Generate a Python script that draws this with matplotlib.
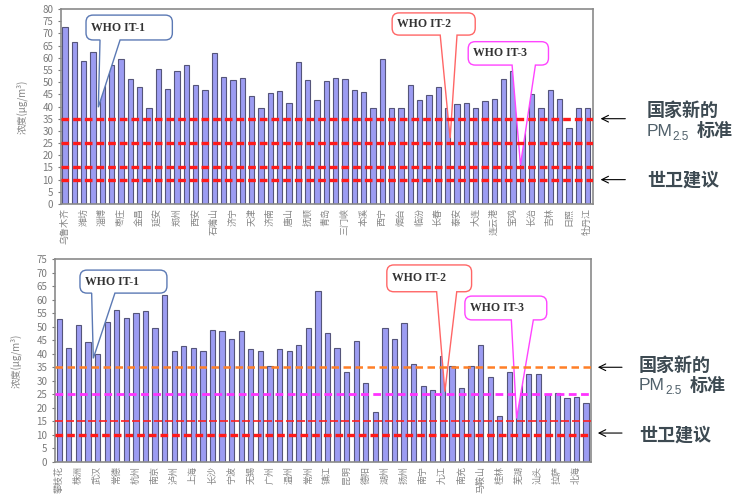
import matplotlib
matplotlib.use('Agg')
import matplotlib.pyplot as plt
from matplotlib.path import Path
from matplotlib.patches import PathPatch
from matplotlib.transforms import IdentityTransform
import numpy as np

plt.rcParams['font.family'] = ['Noto Sans CJK SC', 'DejaVu Sans']

# 北方城市 PM2.5 年均浓度 (ug/m3)
north_vals = [72.5, 66.3, 58.5, 62.5, 50.5, 57.0, 59.3, 51.3, 48.0, 39.2,
              55.4, 47.3, 54.7, 56.9, 49.0, 46.6, 62.0, 52.0, 51.0, 51.5,
              44.4, 39.3, 45.5, 46.5, 41.3, 58.3, 50.7, 42.7, 50.3, 51.7,
              51.1, 46.7, 45.8, 39.2, 59.4, 39.2, 39.2, 48.8, 42.8, 44.6,
              48.1, 39.5, 40.9, 41.6, 39.2, 42.4, 43.2, 51.3, 54.7, 38.0,
              45.1, 39.2, 46.8, 42.9, 31.0, 39.2, 39.2]
north_labels = ['乌鲁木齐', '潍坊', '淄博', '枣庄', '金昌', '延安', '郑州', '西安',
                '石嘴山', '济宁', '天津', '济南', '唐山', '抚顺', '青岛', '三门峡',
                '本溪', '西宁', '烟台', '临汾', '长春', '泰安', '大连', '连云港',
                '宝鸡', '长治', '吉林', '日照', '牡丹江']

# 南方城市
south_vals = [52.7, 42.2, 50.5, 44.2, 40.0, 51.8, 56.2, 53.1, 55.2, 55.8,
              49.4, 61.7, 41.0, 42.7, 42.2, 41.0, 48.6, 48.4, 45.3, 48.4,
              41.7, 41.0, 35.6, 41.7, 41.0, 43.2, 49.4, 63.2, 47.7, 42.2,
              33.4, 44.8, 29.1, 18.6, 49.4, 45.3, 51.2, 36.2, 28.1, 26.6,
              39.0, 35.5, 27.2, 35.5, 43.2, 31.5, 17.1, 33.1, 30.0, 32.5,
              32.4, 25.1, 25.6, 23.8, 23.9, 21.7]
south_labels = ['攀枝花', '株洲', '武汉', '常德', '杭州', '南京', '泸州', '上海',
                '长沙', '宁波', '无锡', '广州', '温州', '常州', '镇江', '昆明',
                '德阳', '湖州', '扬州', '南宁', '九江', '南充', '马鞍山', '桂林',
                '芜湖', '汕头', '拉萨', '北海']

BAR = '#9c9cf2'
EDGE = '#55557a'
GREY = '#7a7a7a'
TXT = '#3d4a52'

fig = plt.figure(figsize=(7.35, 5.03), dpi=100)
ax1 = fig.add_axes([0.0830, 0.5944, 0.7238, 0.3877])
ax2 = fig.add_axes([0.0748, 0.0815, 0.7293, 0.4036])


def draw_panel(ax, values, labels, ymax, xlim):
    x = np.arange(len(values))
    ax.bar(x, values, width=0.55, color=BAR, edgecolor=EDGE, lw=0.8, zorder=2)
    ax.set_xlim(*xlim)
    ax.set_ylim(0, ymax)
    ax.set_yticks(np.arange(0, ymax + 1, 5))
    ax.set_xticks(x[::2])
    ax.set_xticklabels(labels, rotation=90, fontsize=6.5, color='#858585')
    ax.tick_params(axis='x', length=0, pad=3)
    ax.tick_params(axis='y', length=2.5, labelsize=7, colors=GREY, pad=3)
    for s in ax.spines.values():
        s.set_color('#8a8a8a')
        s.set_linewidth(1.2)
    ax.set_ylabel('浓度(μg/m³)', fontsize=7, color='#858585')


def bubble(ax, box, tail, tip, color, text):
    # speech bubble: box=(x0, x1, ybottom, ytop), tail=(xa, xb) on the bottom edge
    T = ax.transData
    x0, y0 = T.transform((box[0], box[2]))
    x1, y1 = T.transform((box[1], box[3]))
    xa = T.transform((tail[0], box[2]))[0]
    xb = T.transform((tail[1], box[2]))[0]
    xt, yt = T.transform(tip)
    r = 7
    verts = [(x0 + r, y0), (xa, y0), (xt, yt), (xb, y0), (x1 - r, y0),
             (x1, y0), (x1, y0 + r), (x1, y1 - r), (x1, y1), (x1 - r, y1),
             (x0 + r, y1), (x0, y1), (x0, y1 - r), (x0, y0 + r), (x0, y0),
             (x0 + r, y0), (x0 + r, y0)]
    codes = [Path.MOVETO, Path.LINETO, Path.LINETO, Path.LINETO, Path.LINETO,
             Path.CURVE3, Path.CURVE3, Path.LINETO, Path.CURVE3, Path.CURVE3,
             Path.LINETO, Path.CURVE3, Path.CURVE3, Path.LINETO, Path.CURVE3,
             Path.CURVE3, Path.CLOSEPOLY]
    p = PathPatch(Path(verts, codes), facecolor='white', edgecolor=color, lw=1.0,
                  transform=IdentityTransform(), zorder=3, clip_on=False)
    ax.add_patch(p)
    ax.text(box[0] + 0.5, (box[2] + box[3]) / 2, text, fontsize=8.5,
            family='Liberation Serif', fontweight='bold', color='#333333',
            va='center', ha='left', zorder=6)


def side_notes(ax, tip_x, tail_x, tx, y_arrows, y_lines, sub_dx, std_dx):
    tr = ax.get_yaxis_transform()
    for y in y_arrows:
        ax.annotate('', xy=(tip_x, y), xycoords=tr, xytext=(tail_x, y), textcoords=tr,
                    arrowprops=dict(arrowstyle='->', lw=0.8, color='black',
                                    mutation_scale=12), annotation_clip=False)
    y_top, y_pm, y_sub, y_std, y_who = y_lines
    ax.text(tx, y_top, '国家新的', transform=tr, fontsize=13, fontweight='bold',
            color=TXT, va='center', ha='left', clip_on=False)
    ax.text(tx, y_pm, 'PM', transform=tr, fontsize=12.5, family='Liberation Sans',
            color='#50606a', va='center', ha='left', clip_on=False)
    ax.text(tx + sub_dx, y_sub, '2.5', transform=tr, fontsize=8.5,
            family='Liberation Sans', color='#50606a', va='center', ha='left',
            clip_on=False)
    ax.text(tx + std_dx, y_std, '标准', transform=tr, fontsize=13, fontweight='bold',
            color=TXT, va='center', ha='left', clip_on=False)
    ax.text(tx, y_who, '世卫建议', transform=tr, fontsize=13, fontweight='bold',
            color=TXT, va='center', ha='left', clip_on=False)


# 北方城市
draw_panel(ax1, north_vals, north_labels, 80, (-0.43, 56.57))
ax1.yaxis.set_label_coords(-0.062, 0.5)
for y in [35, 25, 15, 10]:
    ax1.axhline(y, color='#ff1a1a', lw=2.4, dashes=(2.3, 1.2), zorder=4)
bubble(ax1, (2.25, 11.5, 67.3, 77.5), (3.75, 5.9), (3.57, 39.7), '#5b79b4', 'WHO IT-1')
bubble(ax1, (35.05, 43.95, 69.3, 78.4), (40.2, 42.0), (41.26, 27.0), '#ff6666', 'WHO IT-2')
bubble(ax1, (43.2, 51.8, 57.0, 66.6), (47.9, 50.4), (48.8, 16.0), '#ff44ff', 'WHO IT-3')
side_notes(ax1, 1.009, 1.066, 1.1015, [35, 10], (38.4, 29.7, 27.3, 30.0, 9.85),
           0.047, 0.094)

# 南方城市
draw_panel(ax2, south_vals, south_labels, 75, (-0.45, 55.52))
ax2.yaxis.set_label_coords(-0.0616, 0.5)
ax2.axhline(35, color='#ff7f27', lw=1.8, dashes=(3.0, 1.8), zorder=4)
ax2.axhline(25, color='#ff33ff', lw=2.0, dashes=(2.8, 1.6), zorder=4)
ax2.axhline(15, color='#ff2020', lw=1.2, dashes=(4.8, 1.8), zorder=4)
ax2.axhline(10, color='#ff1a1a', lw=2.4, dashes=(2.3, 1.2), zorder=4)
bubble(ax2, (2.16, 11.24, 62.4, 70.9), (3.38, 5.81), (3.55, 38.3), '#5b79b4', 'WHO IT-1')
bubble(ax2, (34.2, 43.05, 62.9, 72.8), (39.4, 41.5), (40.26, 26.0), '#ff6666', 'WHO IT-2')
bubble(ax2, (42.35, 50.9, 52.5, 61.3), (47.2, 49.5), (47.75, 16.1), '#ff44ff', 'WHO IT-3')
side_notes(ax2, 1.0075, 1.063, 1.0896, [35, 10.7], (35.8, 28.1, 26.2, 28.4, 10.0),
           0.0485, 0.0951)

fig.savefig('out.png', dpi=100)
